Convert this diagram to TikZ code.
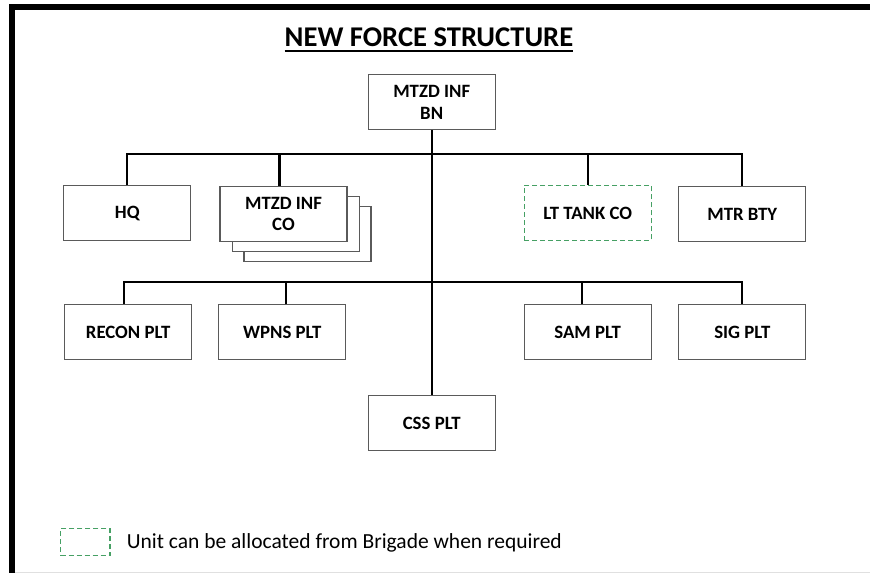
\documentclass[tikz,border=0pt]{standalone}
\usepackage{fontspec}
\setmainfont{Carlito}
\definecolor{boxline}{RGB}{90,90,90}
\definecolor{allocgreen}{RGB}{70,160,100}
\begin{document}
\begin{tikzpicture}[x=1pt,y=-1pt]
\tikzset{
  unitbox/.style={draw=boxline, line width=1.1pt, fill=white, minimum width=127pt, minimum height=55pt,
    inner sep=0pt, align=center, font=\fontsize{18.8}{21.5}\selectfont\bfseries},
  allocbox/.style={unitbox, draw=allocgreen, dashed, dash pattern=on 5pt off 3pt},
  conn/.style={line width=2.3pt, black},
}
\useasboundingbox (0,0) rectangle (870,573);
\fill[white] (0,0) rectangle (870,573);
% frame
\draw[line width=5.6pt] (9.3,6.75) -- (870,6.75);
\draw[line width=5.7pt] (12.15,4) -- (12.15,573);
\draw[black!12, line width=0.8pt] (15,572.5) -- (870,572.5);
% title
\node[anchor=base, inner sep=0pt, font=\fontsize{28.6}{34}\selectfont\bfseries] (title) at (429,46.7) {NEW FORCE STRUCTURE};
\draw[line width=1.6pt] (title.west |- 0,51) -- (title.east |- 0,51);
% nodes
\node[unitbox] (bn) at (431.7,102.2) {MTZD INF\\BN};
\node[unitbox] (hq) at (127.3,213.3) {HQ};
\node[unitbox] (co3) at (307.5,233.7) {};
\node[unitbox] (co2) at (295.8,224.2) {};
\node[unitbox] (co) at (283.5,214.2) {MTZD INF\\CO};
\node[allocbox] (lt) at (587.7,212.9) {LT TANK CO};
\node[unitbox] (mtr) at (742.3,214) {MTR BTY};
\node[unitbox] (recon) at (128.2,332.3) {RECON PLT};
\node[unitbox] (wpns) at (282.3,332.3) {WPNS PLT};
\node[unitbox] (sam) at (587.7,332.3) {SAM PLT};
\node[unitbox] (sig) at (742.3,332.3) {SIG PLT};
\node[unitbox] (css) at (431.7,423) {CSS PLT};
% buses
\coordinate (busA) at (0,154);
\coordinate (busB) at (0,282);
\draw[conn] (bn.south) -- (css.north);
\draw[conn] (hq.north) -- (hq.north |- busA) -- (mtr.north |- busA) -- (mtr.north);
\draw[conn] ([xshift=-4pt]co.north) -- ([xshift=-4pt]co.north |- busA);
\draw[conn] (lt.north) -- (lt.north |- busA);
\draw[conn] ([xshift=-4pt]recon.north) -- ([xshift=-4pt]recon.north |- busB) -- (sig.north |- busB) -- (sig.north);
\draw[conn] ([xshift=4pt]wpns.north) -- ([xshift=4pt]wpns.north |- busB);
\draw[conn] ([xshift=-6pt]sam.north) -- ([xshift=-6pt]sam.north |- busB);
% legend
\node[allocbox, minimum width=49.3pt, minimum height=27pt] (legbox) at (85.35,542.2) {};
\node[anchor=base west, inner sep=0pt, font=\fontsize{21.5}{26}\selectfont] (legtext) at (126.7,548) {Unit can be allocated from Brigade when required};
\end{tikzpicture}
\end{document}
